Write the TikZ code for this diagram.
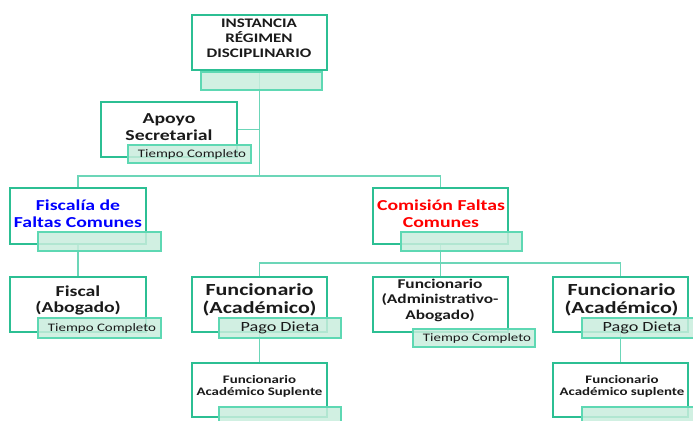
\documentclass[tikz,border=0pt]{standalone}
\usepackage{fontspec}
\setmainfont{Carlito}[FakeStretch=1.3]
\usetikzlibrary{fit}
\definecolor{boxline}{HTML}{2CBF93}
\definecolor{tagfill}{HTML}{C9EDDD}
\definecolor{tagline}{HTML}{5ED8B3}
\definecolor{connline}{HTML}{6CD6B8}
\definecolor{txt}{HTML}{1A1A1A}
\tikzset{
  box/.style={draw=boxline, line width=1.5pt, fill=white, inner sep=0pt},
  tag/.style={draw=tagline, line width=1.1pt, fill=tagfill, fill opacity=0.85, inner sep=0pt},
  conn/.style={draw=connline, line width=1.4pt},
  lbl/.style={inner sep=0pt, align=center, text=txt},
}
\newcommand\fs[2]{\fontsize{#1}{#2}\selectfont}
\begin{document}
\begin{tikzpicture}[x=0.75pt, y=-0.75pt]
\useasboundingbox (0,0) rectangle (693,421);
\clip (0,0) rectangle (693,421);
% boxes
\node[box, fit={(192,15) (327,70)}] (top) {};
\node[box, fit={(101,102) (237,157)}] (apoyo) {};
\node[box, fit={(10,188) (146,244)}] (fisc) {};
\node[box, fit={(373,188) (508,244)}] (comi) {};
\node[box, fit={(10,277) (146,332)}] (fiscal) {};
\node[box, fit={(192,277) (327,332)}] (funA) {};
\node[box, fit={(373,277) (508,332)}] (funAdm) {};
\node[box, fit={(553,277) (688,332)}] (funR) {};
\node[box, fit={(192,363) (327,417)}] (supL) {};
\node[box, fit={(553,363) (688,417)}] (supR) {};
% connectors
\coordinate (j1) at (259.5,176);
\coordinate (j2) at (440.5,263);
\draw[conn] (top.south) -- (j1);
\draw[conn] (fisc.north) |- (j1) -| (comi.north);
\draw[conn] (apoyo.east) -- (apoyo.east -| top.south);
\draw[conn] (fisc.south) -- (fiscal.north);
\draw[conn] (comi.south) -- (j2);
\draw[conn] (funA.north) |- (j2) -| (funR.north);
\draw[conn] (j2) -- (funAdm.north);
\draw[conn] (funA.south) -- (supL.north);
\draw[conn] (funR.south) -- (supR.north);
% tags
\node[tag, fit={(201,72) (322,90)}] (topT) {};
\node[tag, fit={(128,145) (251,163)}] (apoyoT) {};
\node[tag, fit={(38,232) (161,251)}] (fiscT) {};
\node[tag, fit={(401,232) (522,251)}] (comiT) {};
\node[tag, fit={(38,318) (161,338)}] (fiscalT) {};
\node[tag, fit={(219,318) (341,338)}] (funAT) {};
\node[tag, fit={(413,329) (535,347)}] (funAdmT) {};
\node[tag, fit={(582,318) (702,338)}] (funRT) {};
\node[tag, fit={(219,407) (341,427)}] (supLT) {};
\node[tag, fit={(582,407) (702,427)}] (supRT) {};
% texts
\node[lbl, font=\fs{9.8pt}{11.3pt}\bfseries] (topL) at (259,38.5) {INSTANCIA\\RÉGIMEN\\DISCIPLINARIO};
\node[lbl, font=\fs{11.4pt}{12.6pt}\bfseries] (apoyoL) at (169,127) {Apoyo\\Secretarial};
\node[lbl, font=\fs{8.6pt}{9pt}] (apoyoTL) at (192,154) {Tiempo Completo};
\node[lbl, font=\fs{11.4pt}{12.6pt}\bfseries, text=blue] (fiscL) at (78,214) {Fiscalía de\\Faltas Comunes};
\node[lbl, font=\fs{11.4pt}{12.6pt}\bfseries, text=red] (comiL) at (441,214) {Comisión Faltas\\Comunes};
\node[lbl, font=\fs{11.4pt}{12.4pt}\bfseries] (fiscalL) at (78,300.5) {Fiscal\\(Abogado)};
\node[lbl, font=\fs{8.6pt}{9pt}] (fiscalTL) at (102,328) {Tiempo Completo};
\node[lbl, font=\fs{12.7pt}{13.6pt}\bfseries] (funAL) at (259.5,300) {Funcionario\\(Académico)};
\node[lbl, font=\fs{10.5pt}{11pt}] (funATL) at (280,328) {Pago Dieta};
\node[lbl, font=\fs{10pt}{11.6pt}\bfseries] (funAdmL) at (440,300) {Funcionario\\(Administrativo-\\Abogado)};
\node[lbl, font=\fs{8.6pt}{9pt}] (funAdmTL) at (477,338) {Tiempo Completo};
\node[lbl, font=\fs{12.7pt}{13.6pt}\bfseries] (funRL) at (621.5,300) {Funcionario\\(Académico)};
\node[lbl, font=\fs{10.5pt}{11pt}] (funRTL) at (642,328) {Pago Dieta};
\node[lbl, font=\fs{8.6pt}{9.3pt}\bfseries] (supLL) at (259.5,386.5) {Funcionario\\Académico Suplente};
\node[lbl, font=\fs{8.6pt}{9.3pt}\bfseries] (supRL) at (622,386.5) {Funcionario\\Académico suplente};
\end{tikzpicture}
\end{document}
